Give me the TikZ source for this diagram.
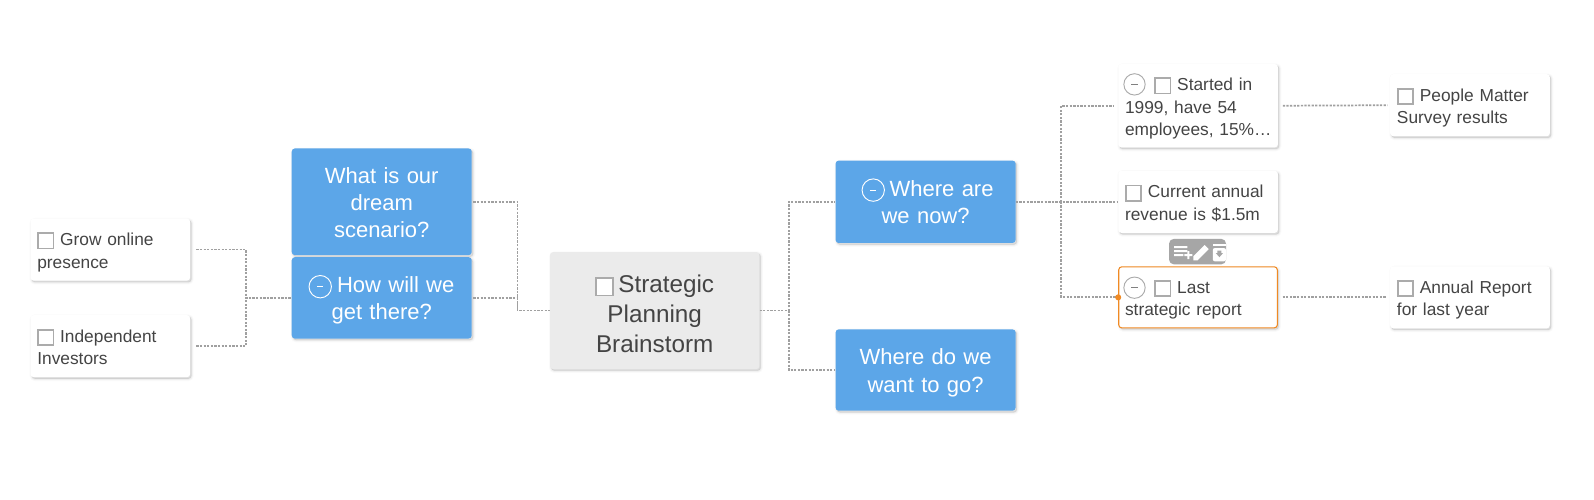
\documentclass[tikz,border=0pt]{standalone}
\usepackage{fontspec}
\setmainfont[WordSpace=0.85]{Liberation Sans}
\usetikzlibrary{calc}
\definecolor{bluebox}{HTML}{5CA6E8}
\definecolor{greybox}{HTML}{EBEBEB}
\definecolor{txt}{HTML}{444444}
\definecolor{linec}{HTML}{A0A0A0}
\definecolor{cbc}{HTML}{ABABAB}
\definecolor{orangeb}{HTML}{F08A24}
\definecolor{toolc}{HTML}{A6A6A6}
\newcommand{\cbx}[1]{{\setlength{\fboxsep}{0pt}\setlength{\fboxrule}{1.4pt}\raisebox{-1.4pt}{\fcolorbox{cbc}{white}{\rule{0pt}{#1}\rule{#1}{0pt}}}}}
\tikzset{
  softshadow/.style={
    preaction={draw=black,fill=black,draw opacity=.02,fill opacity=.02,line width=3.4pt,transform canvas={shift={(1pt,-1.2pt)}}},
    preaction={draw=black,fill=black,draw opacity=.03,fill opacity=.03,line width=2pt,transform canvas={shift={(1pt,-1.2pt)}}},
    preaction={draw=black,fill=black,draw opacity=.045,fill opacity=.045,line width=.8pt,transform canvas={shift={(1pt,-1.2pt)}}}},
  box/.style={rectangle,rounded corners=2.3pt,inner sep=0pt,softshadow},
  bluenode/.style={box,fill=bluebox,text=white,minimum width=135pt,text width=135pt,align=center,font=\fontsize{16.5pt}{20.4pt}\selectfont,execute at begin node={\rule{0pt}{16.6pt}},execute at end node={\rule[-4pt]{0pt}{4pt}}},
  whitenode/.style={box,fill=white,text=txt,minimum width=119.7pt,minimum height=46.5pt,text width=109.5pt,align=left,font=\fontsize{13pt}{16.8pt}\selectfont,execute at begin node={\rule{0pt}{14pt}},execute at end node={\rule[-3pt]{0pt}{3pt}}},
  rootnode/.style={box,fill=greybox,text=txt,minimum width=157pt,text width=157pt,minimum height=87.7pt,align=center,font=\fontsize{18.2pt}{22.3pt}\selectfont,execute at begin node={\rule{0pt}{18pt}}},
  link/.style={draw=linec,line width=1.3pt,dash pattern=on 1.7pt off 1pt},
  minusw/.style={circle,draw=white,line width=.7pt,minimum size=16.8pt,inner sep=0pt,
    path picture={\draw[white,line width=.9pt] ($(path picture bounding box.center)+(-3,0)$) -- ($(path picture bounding box.center)+(3,0)$);}},
  minusg/.style={circle,draw=cbc,line width=.7pt,minimum size=16pt,inner sep=0pt,
    path picture={\draw[gray,line width=.8pt] ($(path picture bounding box.center)+(-3,0)$) -- ($(path picture bounding box.center)+(3,0)$);}},
}
\begin{document}
\begin{tikzpicture}[x=0.7625pt,y=-0.7625pt]
\useasboundingbox (0,0) rectangle (1568,491.8);
\fill[white] (0,0) rectangle (1568,491.8);
% nodes
\node[rootnode] (root) at (644,305.5) {\cbx{11.5pt}\hspace{3pt}Strategic\\Planning\\Brainstorm};
\node[bluenode,minimum height=80pt] (dream) at (375.5,198.5) {What is our\\dream\\scenario?};
\node[bluenode,minimum height=61pt] (how) at (375.5,293) {\hspace*{21pt}How will we\\get there?};
\node[bluenode,minimum height=61.8pt] (now) at (910.5,198.5) {\hspace*{24pt}Where are\\we now?};
\node[bluenode,minimum height=61pt] (want) at (910.5,364) {Where do we\\want to go?};
\node[whitenode] (grow) at (108.5,245.5) {\cbx{10pt} Grow online\\presence};
\node[whitenode] (indep) at (108.5,340.5) {\cbx{10pt} Independent\\Investors};
\node[whitenode,minimum height=62.5pt] (started) at (1178.5,104) {\hspace*{22pt}\cbx{10pt} Started in\\1999, have 54\\\leavevmode\rlap{employees, 15\%…}};
\node[whitenode] (revenue) at (1178.5,198.5) {\cbx{10pt} Current annual\\revenue is \$1.5m};
\node[whitenode,draw=orangeb,line width=.8pt,minimum width=119pt,minimum height=45.8pt] (last) at (1178.5,292.5) {\hspace*{22pt}\cbx{10pt} Last\\strategic report};
\node[whitenode] (people) at (1446,103.5) {\cbx{10pt} People Matter\\Survey results};
\node[whitenode] (annual) at (1446,292.5) {\cbx{10pt} Annual Report\\for last year};
% collapse icons
\node[minusw] (m1) at (315,282) {};
\node[minusw] (m2) at (859,187) {};
\node[minusg] (m3) at (1116,83) {};
\node[minusg] (m4) at (1116,283) {};
% junctions
\coordinate (jl) at (242,293);
\coordinate (jm) at (509,305.5);
\coordinate (jr) at (776,305.5);
\coordinate (jn) at (1044,198.5);
% connectors
\draw[link,shorten <=4.5pt] (grow.east) -| (jl) -- (how.west);
\draw[link,shorten <=4.5pt] (indep.east) -| (jl);
\draw[link,shorten <=1pt] (dream.east) -| (jm) -- (root.west);
\draw[link,shorten <=1pt] (how.east) -| (jm);
\draw[link] (root.east) -- (jr) |- (now.west);
\draw[link] (jr) |- (want.west);
\draw[link] (now.east) -- (jn) -- (revenue.west);
\draw[link,shorten >=3pt] (jn) |- (started.west);
\draw[link] (jn) |- (last.west);
\draw[link,shorten <=3.5pt,shorten >=2pt] (started.east) -- (people.west);
\draw[link,shorten <=3.5pt,shorten >=3pt] (last.east) -- (annual.west);
% selection dot
\fill[orangeb] (last.west) circle (3);
% toolbar
\fill[toolc,rounded corners=3.5pt] (1150,235) rectangle (1206,260);
\fill[white] (1155,242) rectangle (1168,244) (1155,246) rectangle (1168,248) (1155,250) rectangle (1164,252);
\fill[white] (1165,250) rectangle (1173,252) (1168,247) rectangle (1170,255);
\fill[white] (1174,252) -- (1174,256) -- (1178,256) -- (1189,245) -- (1185,241) -- cycle;
\fill[white] (1193,240) rectangle (1206,241.5);
\fill[white,rounded corners=1.5pt] (1193,244) rectangle (1206,257);
\fill[toolc] (1197.5,246.5) rectangle (1201.5,249) (1196,249) -- (1203,249) -- (1199.5,253) -- cycle;
\end{tikzpicture}
\end{document}
